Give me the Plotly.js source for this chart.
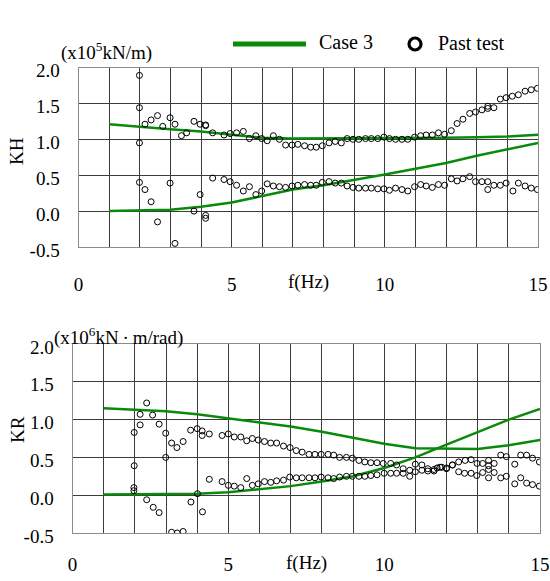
<!DOCTYPE html>
<html>
<head>
<meta charset="utf-8">
<script src="https://cdn.plot.ly/plotly-3.0.1.min.js"></script>
<style>html,body{margin:0;padding:0;background:#fff;}#chart{width:550px;height:581px;}</style>
</head>
<body>
<div id="chart"></div>
<script>
// ---- data ----
const caseFreq = [1,2,3,4,5,6,7,8,9,10,11,12,13,14,15];
const khCaseReal = [1.21,1.17,1.14,1.11,1.06,1.02,1.01,1.01,1.01,1.01,1.01,1.02,1.03,1.04,1.065];
const khCaseImag = [0.0,0.01,0.02,0.06,0.12,0.21,0.30,0.36,0.43,0.51,0.59,0.67,0.77,0.86,0.95];
const krCaseReal = [1.15,1.13,1.11,1.07,1.02,0.96,0.91,0.84,0.76,0.68,0.62,0.61,0.61,0.66,0.73];
const krCaseImag = [0.01,0.01,0.015,0.02,0.04,0.08,0.12,0.18,0.25,0.36,0.50,0.67,0.84,1.0,1.14];

// past test points [f, value]
const khTestReal = [[1.99,1.89],[1.99,1.44],[1.99,0.95],[2.17,1.21],[2.37,1.27],[2.58,1.33],[2.75,1.18],[2.99,1.30],[3.15,1.21],[3.36,1.05],[3.53,1.09],[3.77,1.25],[3.97,1.21],[4.15,1.19],[4.15,1.20],[4.38,1.09],[4.75,1.06],[4.95,1.08],[5.16,1.09],[5.38,1.11],[5.58,1.01],[5.79,1.05],[5.98,1.01],[6.16,0.98],[6.36,1.05],[6.56,1.00],[6.76,0.92],[6.97,0.92],[7.16,0.93],[7.38,0.91],[7.58,0.89],[7.76,0.89],[7.96,0.91],[8.18,0.95],[8.38,0.97],[8.58,0.95],[8.77,1.01],[8.96,1.00],[9.15,1.00],[9.37,1.01],[9.56,1.01],[9.77,1.01],[9.97,1.03],[10.15,1.01],[10.35,1.00],[10.56,1.00],[10.75,1.00],[10.97,1.03],[11.17,1.05],[11.35,1.06],[11.55,1.06],[11.75,1.09],[11.95,1.07],[12.17,1.12],[12.36,1.22],[12.55,1.28],[12.77,1.36],[12.96,1.38],[13.17,1.41],[13.36,1.43],[13.36,1.46],[13.56,1.44],[13.77,1.56],[13.96,1.58],[14.16,1.60],[14.36,1.62],[14.58,1.67],[14.78,1.69],[14.98,1.71]];
const khTestImag = [[1.99,0.40],[2.17,0.30],[2.37,0.13],[2.58,-0.15],[2.99,0.39],[3.15,-0.45],[3.77,0.0],[3.97,0.23],[4.15,-0.06],[4.15,-0.10],[4.38,0.46],[4.75,0.44],[4.95,0.41],[5.16,0.36],[5.38,0.28],[5.58,0.34],[5.79,0.23],[5.98,0.28],[6.16,0.38],[6.36,0.35],[6.56,0.34],[6.76,0.33],[6.97,0.35],[7.16,0.36],[7.38,0.37],[7.58,0.36],[7.76,0.36],[7.96,0.40],[8.18,0.41],[8.38,0.39],[8.58,0.39],[8.77,0.35],[8.96,0.33],[9.15,0.32],[9.37,0.32],[9.56,0.32],[9.77,0.31],[9.97,0.31],[10.15,0.29],[10.35,0.32],[10.56,0.30],[10.75,0.28],[10.97,0.34],[11.17,0.37],[11.35,0.35],[11.55,0.33],[11.75,0.37],[11.95,0.36],[12.17,0.45],[12.36,0.42],[12.55,0.45],[12.77,0.48],[12.96,0.41],[13.17,0.41],[13.36,0.41],[13.36,0.30],[13.56,0.36],[13.77,0.36],[13.96,0.39],[14.18,0.28],[14.36,0.39],[14.58,0.35],[14.78,0.32],[14.98,0.30]];
const krTestReal = [[1.98,0.83],[2.17,1.07],[2.17,0.93],[2.38,1.22],[2.57,1.06],[2.78,0.94],[2.99,0.82],[2.99,0.50],[3.18,0.69],[3.35,0.63],[3.55,0.71],[3.79,0.86],[4.0,0.88],[4.16,0.85],[4.16,0.79],[4.39,0.81],[4.80,0.79],[5.0,0.81],[5.19,0.77],[5.40,0.77],[5.59,0.72],[5.77,0.75],[5.96,0.73],[6.16,0.71],[6.36,0.69],[6.55,0.69],[6.77,0.65],[6.98,0.63],[7.18,0.59],[7.37,0.57],[7.59,0.54],[7.78,0.54],[7.98,0.54],[8.20,0.54],[8.38,0.53],[8.57,0.50],[8.79,0.50],[8.98,0.49],[9.19,0.46],[9.38,0.44],[9.57,0.43],[9.77,0.43],[9.97,0.42],[10.21,0.42],[10.4,0.40],[10.61,0.35],[10.82,0.33],[11.0,0.41],[11.21,0.40],[11.4,0.35],[11.6,0.34],[11.79,0.37],[12.0,0.35],[12.19,0.40],[12.39,0.44],[12.6,0.46],[12.79,0.47],[12.98,0.42],[13.16,0.42],[13.35,0.46],[13.53,0.42],[13.74,0.53],[13.92,0.51],[14.19,0.41],[14.38,0.53],[14.57,0.53],[14.76,0.49],[14.98,0.44]];
const krTestImag = [[1.98,0.39],[1.97,0.10],[1.97,0.06],[2.38,-0.06],[2.59,-0.16],[2.78,-0.23],[3.18,-0.49],[3.36,-0.50],[3.55,-0.48],[3.80,-0.09],[4.01,0.02],[4.17,-0.22],[4.39,0.21],[4.80,0.18],[5.0,0.13],[5.19,0.12],[5.40,0.10],[5.59,0.22],[5.77,0.13],[5.96,0.15],[6.16,0.18],[6.36,0.17],[6.55,0.19],[6.77,0.20],[6.97,0.24],[7.18,0.23],[7.37,0.23],[7.59,0.23],[7.78,0.23],[7.98,0.24],[8.20,0.23],[8.38,0.22],[8.57,0.24],[8.79,0.25],[8.98,0.25],[9.19,0.25],[9.38,0.25],[9.57,0.26],[9.77,0.27],[10.0,0.29],[10.21,0.29],[10.4,0.29],[10.61,0.29],[10.82,0.25],[11.0,0.31],[11.21,0.33],[11.4,0.32],[11.6,0.32],[11.7,0.36],[11.85,0.37],[12.0,0.36],[12.19,0.40],[12.39,0.31],[12.58,0.29],[12.79,0.29],[12.97,0.26],[13.16,0.30],[13.35,0.39],[13.35,0.34],[13.35,0.23],[13.53,0.30],[13.74,0.23],[13.92,0.25],[14.19,0.15],[14.38,0.23],[14.57,0.16],[14.76,0.14],[14.98,0.12]];

const xTickVals = [0,5,10,15];
const xTickText = ['0','5','10','15'];
const yTickVals = [-0.5,0,0.5,1.0,1.5,2.0];
const yTickText = ['-0.5','0.0','0.5','1.0','1.5','2.0'];

// ---- build ----
const W = 550, H = 581;
const FONT = '"Liberation Serif", "Times New Roman", Times, serif';
const GREEN = '#0a8a0a';
const GRID = '#3c3c3c';
const px = v => v / W;
const py = v => 1 - v / H;

function lineTrace(y, xa, ya) {
  return {x: caseFreq, y: y, xaxis: xa, yaxis: ya, type: 'scatter', mode: 'lines',
          line: {color: GREEN, width: 2.5}, showlegend: false, hoverinfo: 'skip'};
}
function ptsTrace(arr, xa, ya) {
  return {x: arr.map(p => p[0]), y: arr.map(p => p[1]), xaxis: xa, yaxis: ya,
          type: 'scatter', mode: 'markers',
          marker: {symbol: 'circle-open', size: 6, color: '#000', line: {width: 1, color: '#000'}},
          showlegend: false, hoverinfo: 'skip'};
}

const data = [
  lineTrace(khCaseReal, 'x', 'y'), lineTrace(khCaseImag, 'x', 'y'),
  ptsTrace(khTestReal, 'x', 'y'), ptsTrace(khTestImag, 'x', 'y'),
  lineTrace(krCaseReal, 'x2', 'y2'), lineTrace(krCaseImag, 'x2', 'y2'),
  ptsTrace(krTestReal, 'x2', 'y2'), ptsTrace(krTestImag, 'x2', 'y2')
];

function xAxis(dom, anchor, standoff) {
  return {domain: dom, anchor: anchor, range: [0, 15], tickmode: 'array',
          tickvals: xTickVals, ticktext: xTickText, showgrid: true,
          gridcolor: GRID, gridwidth: 1,
          minor: {dtick: 1, tick0: 0, showgrid: true, gridcolor: GRID, gridwidth: 1},
          zeroline: false, showline: true, mirror: true,
          linecolor: '#8a8a8a', linewidth: 1, ticklabelstandoff: standoff,
          tickfont: {size: 19, color: '#000'}, fixedrange: true};
}
function yAxis(dom, anchor) {
  return {domain: dom, anchor: anchor, range: [-0.5, 2.0], tickmode: 'array',
          tickvals: yTickVals, ticktext: yTickText, showgrid: true,
          gridcolor: GRID, gridwidth: 1, zeroline: false, showline: true, mirror: true,
          linecolor: '#8a8a8a', linewidth: 1, ticklabelstandoff: 14, ticklabelshift: 3,
          tickfont: {size: 19, color: '#000'}, fixedrange: true};
}

const layout = {
  width: W, height: H, margin: {l: 0, r: 0, t: 0, b: 0},
  paper_bgcolor: '#fff', plot_bgcolor: '#fff', showlegend: false,
  font: {family: FONT, size: 19, color: '#000'},
  xaxis: xAxis([px(78.5), px(538)], 'y', 20),
  yaxis: yAxis([py(247), py(67.5)], 'x'),
  xaxis2: xAxis([px(72.5), px(540)], 'y2', 14),
  yaxis2: yAxis([py(533), py(344)], 'x2'),
  shapes: [
    {type: 'line', xref: 'paper', yref: 'paper', x0: px(233), x1: px(306), y0: py(44), y1: py(44),
     line: {color: GREEN, width: 5}},
    {type: 'circle', xref: 'paper', yref: 'paper', xsizemode: 'pixel', ysizemode: 'pixel',
     xanchor: px(415), yanchor: py(44), x0: -6, x1: 6, y0: -6, y1: 6,
     line: {color: '#000', width: 3.2}}
  ],
  annotations: [
    {text: 'Case 3', xref: 'paper', yref: 'paper', x: px(317), y: py(42), xanchor: 'left', yanchor: 'middle',
     showarrow: false, font: {family: FONT, size: 20}},
    {text: 'Past test', xref: 'paper', yref: 'paper', x: px(436), y: py(43), xanchor: 'left', yanchor: 'middle',
     showarrow: false, font: {family: FONT, size: 20}},
    {text: '(x10<sup>5</sup>kN/m)', xref: 'paper', yref: 'paper', x: px(59), y: py(52), xanchor: 'left', yanchor: 'middle',
     showarrow: false, font: {family: FONT, size: 19}},
    {text: '(x10<sup>6</sup>kN\u2009\u00B7\u2009m/rad)', xref: 'paper', yref: 'paper', x: px(52), y: py(336), xanchor: 'left', yanchor: 'middle',
     showarrow: false, font: {family: FONT, size: 19}},
    {text: 'KH', xref: 'paper', yref: 'paper', x: px(17), y: py(151), xanchor: 'center', yanchor: 'middle', textangle: -90,
     showarrow: false, font: {family: FONT, size: 19}},
    {text: 'KR', xref: 'paper', yref: 'paper', x: px(17), y: py(430), xanchor: 'center', yanchor: 'middle', textangle: -90,
     showarrow: false, font: {family: FONT, size: 19}},
    {text: 'f(Hz)', xref: 'x domain', yref: 'paper', x: 0.5, y: py(282), xanchor: 'center', yanchor: 'middle',
     showarrow: false, font: {family: FONT, size: 19}},
    {text: 'f(Hz)', xref: 'x2 domain', yref: 'paper', x: 0.5, y: py(563), xanchor: 'center', yanchor: 'middle',
     showarrow: false, font: {family: FONT, size: 19}}
  ]
};

Plotly.newPlot('chart', data, layout, {staticPlot: true, displayModeBar: false});
</script>
</body>
</html>
